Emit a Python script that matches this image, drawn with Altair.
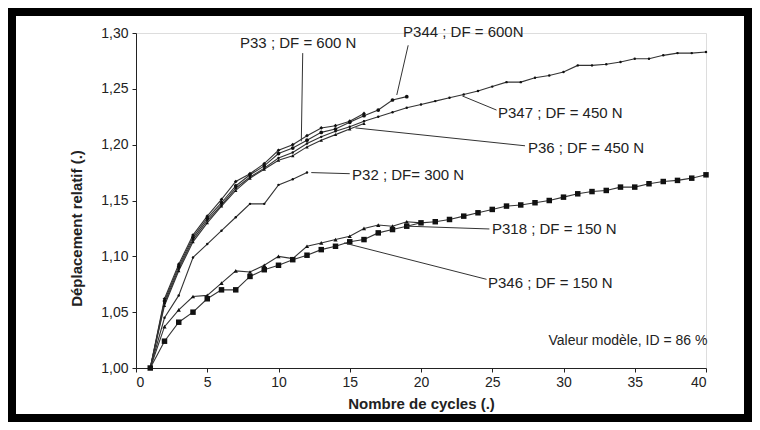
import altair as alt
import pandas as pd

# ---- data ----
series_names = ["P33", "P344", "P36", "P347", "P32", "P318", "P346"]

p33 = [1.000, 1.062, 1.093, 1.119, 1.136, 1.151, 1.167, 1.174, 1.183, 1.195,
       1.200, 1.208, 1.215, 1.217, 1.221, 1.228]
p344 = [1.000, 1.060, 1.091, 1.117, 1.134, 1.148, 1.163, 1.173, 1.181, 1.192,
        1.197, 1.204, 1.211, 1.214, 1.220, 1.226, 1.231, 1.240, 1.243]
p36 = [1.000, 1.056, 1.087, 1.113, 1.130, 1.145, 1.159, 1.170, 1.178, 1.186,
       1.190, 1.198, 1.204, 1.209, 1.214, 1.219]
p347 = [1.000, 1.058, 1.089, 1.115, 1.132, 1.146, 1.161, 1.171, 1.179, 1.188,
        1.193, 1.201, 1.207, 1.212, 1.216, 1.221, 1.225, 1.229, 1.233, 1.236,
        1.239, 1.242, 1.245, 1.248, 1.252, 1.256, 1.256, 1.260, 1.262, 1.265,
        1.271, 1.271, 1.272, 1.274, 1.277, 1.277, 1.280, 1.282, 1.282, 1.283]
p32 = [1.000, 1.045, 1.065, 1.099, 1.111, 1.123, 1.135, 1.147, 1.147, 1.164,
       1.169, 1.175]
p318 = [1.000, 1.037, 1.052, 1.064, 1.065, 1.076, 1.087, 1.086, 1.092, 1.100,
        1.098, 1.109, 1.112, 1.115, 1.118, 1.125, 1.128, 1.127, 1.131, 1.130]
p346 = [1.000, 1.024, 1.041, 1.050, 1.062, 1.070, 1.070, 1.082, 1.088, 1.092,
        1.097, 1.101, 1.106, 1.109, 1.113, 1.115, 1.121, 1.124, 1.127, 1.130,
        1.131, 1.133, 1.136, 1.139, 1.142, 1.145, 1.146, 1.148, 1.150, 1.153,
        1.156, 1.158, 1.159, 1.162, 1.162, 1.165, 1.167, 1.168, 1.170, 1.173]

series_values = [p33, p344, p36, p347, p32, p318, p346]
marker_shapes = ["diamond", "circle", "triangle-up", "circle", "circle", "triangle-up", "square"]
marker_sizes = [14, 14, 12, 6, 6, 18, 30]

# annotations
ann_labels = ["P33 ; DF = 600 N", "P344 ; DF = 600N", "P347 ; DF = 450 N",
              "P36 ; DF = 450 N", "P32 ; DF= 300 N", "P318 ; DF = 150 N",
              "P346 ; DF = 150 N"]
ann_x = [7.3, 18.74, 25.4, 27.5, 15.16, 24.98, 24.7]
ann_y = [1.291, 1.301, 1.2284, 1.197, 1.1728, 1.1245, 1.076]

lead_x1 = [11.7, 19.1, 22.9, 15.4, 12.3, 19.0, 14.6]
lead_y1 = [1.282, 1.289, 1.2436, 1.215, 1.175, 1.127, 1.112]
lead_x2 = [11.6, 18.3, 25.3, 27.3, 15.0, 24.8, 24.6]
lead_y2 = [1.203, 1.2445, 1.231, 1.199, 1.174, 1.1245, 1.0794]

note_text = ["Valeur modèle, ID = 86 %"]
note_x = [40.1]
note_y = [1.024]

x_ticks = [0, 5, 10, 15, 20, 25, 30, 35, 40]
y_ticks = [1.00, 1.05, 1.10, 1.15, 1.20, 1.25, 1.30]

# ---- tables ----
rows = []
for name, vals in zip(series_names, series_values):
    for i, v in enumerate(vals):
        rows.append({"series": name, "cycle": i + 1, "val": v})
df = pd.DataFrame(rows)

ann_df = pd.DataFrame({"label": ann_labels, "x": ann_x, "y": ann_y})
lead_df = pd.DataFrame({"x": lead_x1, "y": lead_y1, "x2": lead_x2, "y2": lead_y2})
note_df = pd.DataFrame({"label": note_text, "x": note_x, "y": note_y})

FONT = "Liberation Sans"
INK = "#222222"

xscale = alt.Scale(domain=[0, 40], nice=False)
yscale = alt.Scale(domain=[1.0, 1.3], nice=False, zero=False)

xaxis = alt.Axis(values=x_ticks, title="Nombre de cycles (.)", grid=False,
                 tickSize=4, labelFontSize=14, labelPadding=3,
                 titleFontSize=15, titleFontWeight="bold",
                 titleY=35, titleBaseline="middle",
                 labelColor=INK, titleColor=INK, domainColor=INK, tickColor=INK,
                 labelFont=FONT, titleFont=FONT)
yaxis = alt.Axis(values=y_ticks, title="Déplacement relatif (.)", grid=False,
                 tickSize=4, labelFontSize=14, labelPadding=4,
                 labelExpr="replace(format(datum.value, '.2f'), '.', ',')",
                 titleFontSize=15, titleFontWeight="bold",
                 titleX=-60, titleY=195, titleBaseline="middle",
                 labelColor=INK, titleColor=INK, domainColor=INK, tickColor=INK,
                 labelFont=FONT, titleFont=FONT)

lines = alt.Chart(df).mark_line(color="#333333", strokeWidth=1.1).encode(
    x=alt.X("cycle:Q", scale=xscale, axis=xaxis),
    y=alt.Y("val:Q", scale=yscale, axis=yaxis),
    detail="series:N",
)

layers = [lines]
for name, shp, sz in zip(series_names, marker_shapes, marker_sizes):
    layers.append(
        alt.Chart(df[df["series"] == name]).mark_point(
            shape=shp, size=sz, filled=True, color="#111111", opacity=1
        ).encode(x=alt.X("cycle:Q", scale=xscale), y=alt.Y("val:Q", scale=yscale))
    )

leaders = alt.Chart(lead_df).mark_rule(color="#333333", strokeWidth=1).encode(
    x=alt.X("x:Q", scale=xscale), y=alt.Y("y:Q", scale=yscale),
    x2="x2:Q", y2="y2:Q",
)
texts = alt.Chart(ann_df).mark_text(
    align="left", baseline="middle", font=FONT, fontSize=15, color=INK
).encode(x=alt.X("x:Q", scale=xscale), y=alt.Y("y:Q", scale=yscale), text="label:N")
note = alt.Chart(note_df).mark_text(
    align="right", baseline="middle", font=FONT, fontSize=14, color=INK
).encode(x=alt.X("x:Q", scale=xscale), y=alt.Y("y:Q", scale=yscale), text="label:N")

frame = alt.Chart(pd.DataFrame({"k": [0]})).mark_rect(
    fill=None, fillOpacity=0, stroke="#000000", strokeWidth=8
).encode(
    x=alt.value(-124), x2=alt.value(612),
    y=alt.value(-21), y2=alt.value(385),
)

chart = alt.layer(*layers, leaders, texts, note, frame).properties(
    width=570, height=335,
    autosize=alt.AutoSizeParams(type="none"),
    padding={"left": 128, "top": 25, "right": 46, "bottom": 54},
    background="white",
).configure_view(strokeWidth=0).configure(font=FONT)

chart.save("out.html", embed_options={"renderer": "svg", "actions": False})
